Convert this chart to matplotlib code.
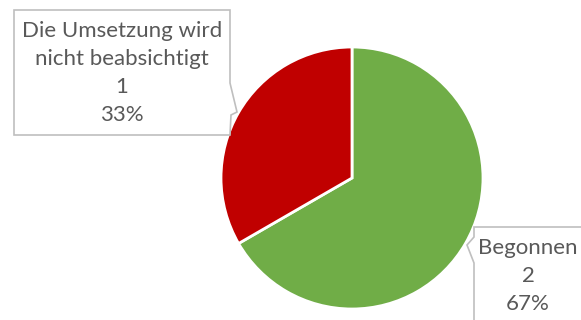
import matplotlib.pyplot as plt
from matplotlib.patches import Polygon

# Status der Maßnahmen
labels = ["Begonnen", "Die Umsetzung wird\nnicht beabsichtigt"]
values = [2, 1]
colors = ["#70AD47", "#C00000"]

W, H = 581, 320
fig = plt.figure(figsize=(W / 100, H / 100), dpi=100)
ax = fig.add_axes([0, 0, 1, 1])

cx, cy, r = 352, H - 178, 131
ax.pie(values, colors=colors, startangle=90, counterclock=False,
       center=(cx, cy), radius=r, frame=True,
       wedgeprops=dict(edgecolor="white", linewidth=2))
ax.set_xlim(0, W)
ax.set_ylim(0, H)
ax.set_aspect("equal")
ax.axis("off")

total = sum(values)
texts = [f"{l}\n{v}\n{round(100 * v / total)}%" for l, v in zip(labels, values)]

def y(v):
    return H - v

# Beschriftungsfeld links (rot) mit Zeiger nach rechts
left_box = [(14, 10), (230, 10), (230, 83), (237, 112), (231, 115),
            (230, 135), (14, 135)]
# Beschriftungsfeld rechts (grün), läuft über den Rand hinaus
right_box = [(474, 227), (600, 227), (600, 340), (474, 340), (474, 263),
             (467, 245), (474, 237)]

for pts in (left_box, right_box):
    ax.add_patch(Polygon([(px, y(py)) for px, py in pts], closed=True,
                         facecolor="white", edgecolor="#BFBFBF",
                         linewidth=1.2, clip_on=False, zorder=3))

font = dict(family=["Lato", "DejaVu Sans"], fontsize=16, color="#595959",
            ha="center", va="center", linespacing=1.48, zorder=4)
ax.text(528, y(276), texts[0], **font)
ax.text(122, y(73), texts[1], **font)

fig.savefig("out.png", dpi=100)
